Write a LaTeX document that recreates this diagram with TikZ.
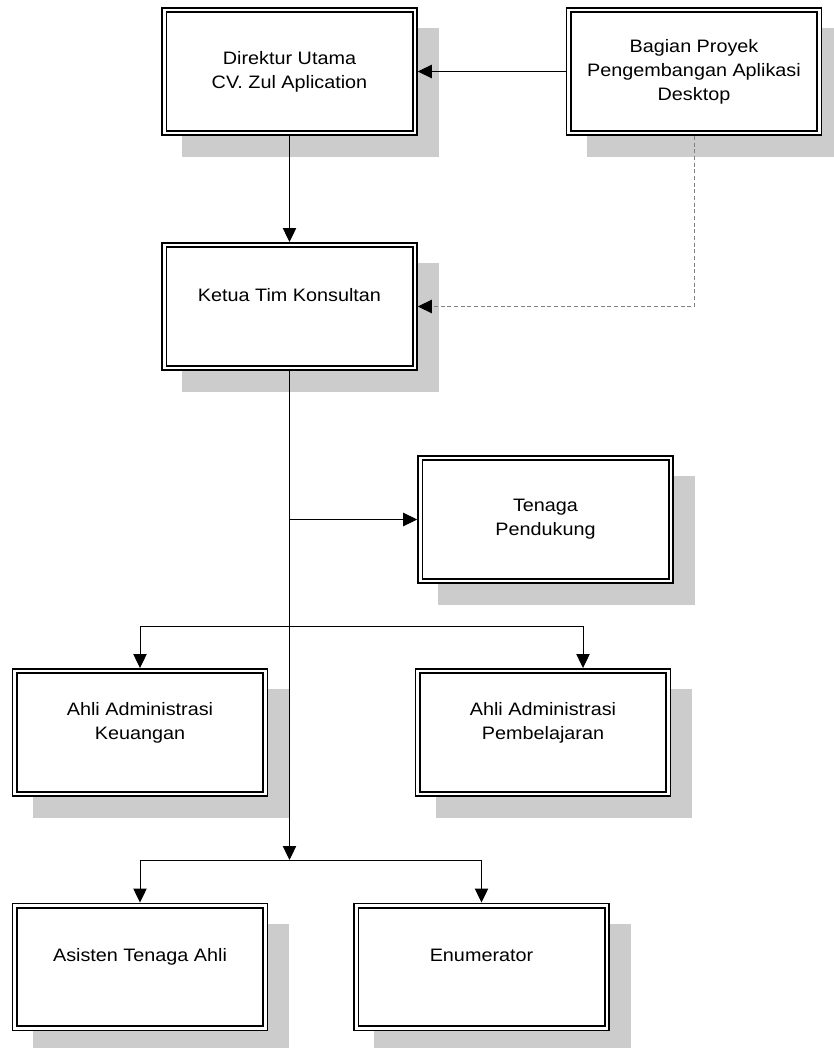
\documentclass[tikz,border=0pt]{standalone}
\usepackage{fontspec}
\setmainfont{Liberation Sans}[FakeStretch=1.1]
\usetikzlibrary{arrows.meta,backgrounds}
\definecolor{shadowgray}{HTML}{CCCCCC}
\definecolor{dashgray}{HTML}{808080}
\tikzset{
  unit/.style={draw=black, fill=white, double=white, line width=1.3pt, double distance=1.9pt,
    minimum width=187.9pt, minimum height=92.2pt, inner sep=0pt, outer sep=2.25pt,
    align=center, font=\fontsize{13.5}{18}\selectfont},
  link/.style={line width=0.75pt, -{Triangle[length=10.5pt,width=10pt]}},
  dotlink/.style={line width=0.75pt, draw=dashgray, dash pattern=on 3pt off 2pt,
    -{Triangle[length=10.5pt,width=10pt,color=black]}}
}
\begin{document}
\begin{tikzpicture}[x=0.75pt, y=-0.75pt]
    \useasboundingbox (0,0) rectangle (833,1048);

    \node[unit] (dir) at (289.5,71.5) {Direktur Utama\\CV. Zul Aplication}; %direktur
    \node[unit] (bag) at (694,71.5) {Bagian Proyek\\Pengembangan Aplikasi\\Desktop}; %bagian proyek
    \node[unit] (ketua) at (289.5,306.5) {Ketua Tim Konsultan\\~}; %ketua
    \node[unit] (tenaga) at (545.5,519.5) {Tenaga\\Pendukung}; %pendukung
    \node[unit] (keu) at (140,732.5) {Ahli Administrasi\\Keuangan\\~}; %keuangan
    \node[unit] (pemb) at (543,732.5) {Ahli Administrasi\\Pembelajaran\\~}; %pembelajaran
    \node[unit] (asisten) at (140,967) {Asisten Tenaga Ahli\\~}; %asisten
    \node[unit] (enum) at (481.5,967) {Enumerator\\~}; %enumerator

    \begin{scope}[on background layer]
        \foreach \n in {dir,bag,ketua,tenaga,keu,pemb,asisten,enum}
            \fill[shadowgray] ([shift={(21,21)}]\n.north west) rectangle ([shift={(21,21)}]\n.south east);
    \end{scope}

    \coordinate (ahlijoin) at (289.5,626);
    \coordinate (stafjoin) at (289.5,860);

    \draw[link] (bag.west) -- (dir.east);
    \draw[link] (dir.south) -- (ketua.north);
    \draw[dotlink] (bag.south) |- (ketua.east);

    \draw[link] (ketua.south) -- (stafjoin);
    \draw[link] (ketua.south |- tenaga.west) -- (tenaga.west);
    \draw[link] (ahlijoin) -| (keu.north);
    \draw[link] (ahlijoin) -| ([xshift=30pt]pemb.north);
    \draw[link] (stafjoin) -| (asisten.north);
    \draw[link] (stafjoin) -| (enum.north);
\end{tikzpicture}
\end{document}
